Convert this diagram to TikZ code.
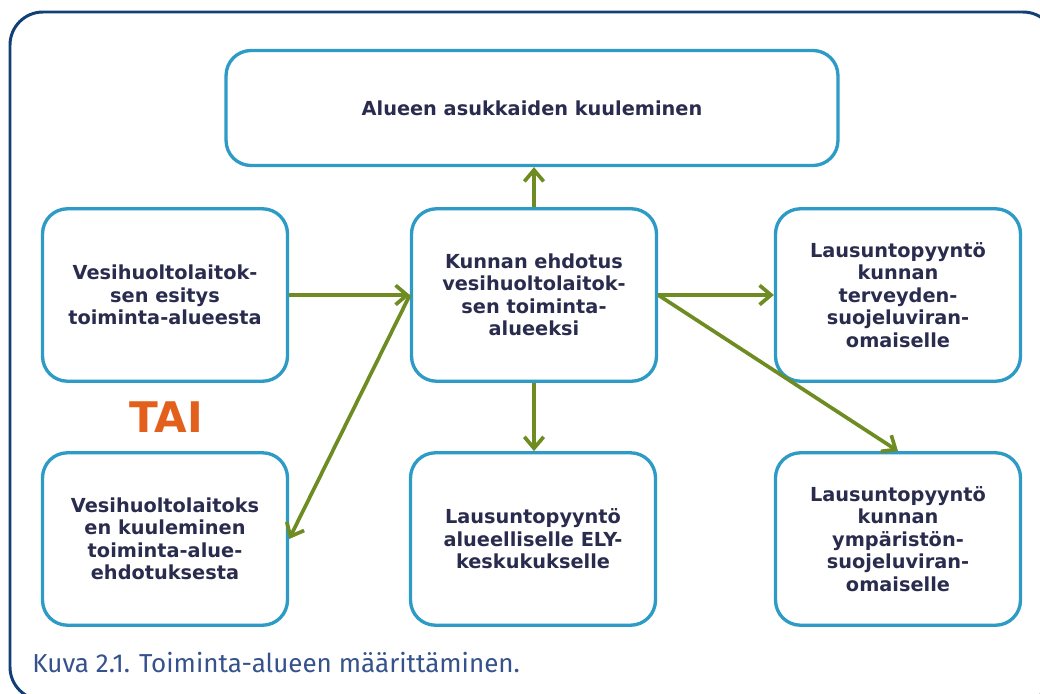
\documentclass[tikz,border=0pt]{standalone}
\usepackage{fontspec}
\setmainfont{DejaVu Sans}
\newfontfamily\capfont{Fira Sans}
\usetikzlibrary{arrows.meta}
\definecolor{boxblue}{HTML}{2E9BC6}
\definecolor{framenavy}{HTML}{123F74}
\definecolor{arrowgreen}{HTML}{6E8C22}
\definecolor{textnavy}{HTML}{2A2C4E}
\definecolor{taiorange}{HTML}{E2601C}
\definecolor{capblue}{HTML}{35528C}
\begin{document}
\begin{tikzpicture}[x=0.02cm,y=-0.02cm,
    box/.style={draw=boxblue,line width=1.9pt,rounded corners=0.5cm,fill=white,
      minimum width=4.9cm,minimum height=3.45cm,align=center,text=textnavy,
      font=\fontsize{11}{12.8}\selectfont\bfseries,inner sep=2pt},
    link/.style={draw=arrowgreen,line width=2.1pt,
      -{Straight Barb[length=6.5pt,width=11pt]}}]
      \useasboundingbox (0,0) rectangle (1040,693);
      \begin{scope}
        \clip (0,0) rectangle (1040,693);
        \draw[framenavy,line width=1.7pt,rounded corners=0.66cm]
          (10,12) rectangle (1056,700);
      \end{scope}
      \draw
        (532,108) node[box,minimum width=12.24cm,minimum height=2.3cm] (asukkaat)
          {Alueen asukkaiden kuuleminen}
        (165,295) node[box] (esitys)
          {Vesihuoltolaitok-\\sen esitys\\toiminta-alueesta}
        (534,295) node[box] (ehdotus)
          {Kunnan ehdotus\\vesihuoltolaitok-\\sen toiminta-\\alueeksi}
        (898,295) node[box] (terveys)
          {Lausuntopyyntö\\kunnan\\terveyden-\\suojeluviran-\\omaiselle}
        (165,539) node[box] (kuuleminen)
          {Vesihuoltolaitoks\\en kuuleminen\\toiminta-alue-\\ehdotuksesta}
        (533,539) node[box] (ely)
          {Lausuntopyyntö\\alueelliselle ELY-\\keskukukselle}
        (898,539) node[box] (ymparisto)
          {Lausuntopyyntö\\kunnan\\ympäristön-\\suojeluviran-\\omaiselle}
        (166,432) node[anchor=base,text=taiorange,font=\fontsize{24}{28}\selectfont\bfseries] (tai) {TAI}
        (32,672) node[anchor=base west,inner sep=0pt,text=capblue,font=\capfont\fontsize{14.8}{17}\selectfont] (kuva)
          {Kuva 2.1. Toiminta-alueen määrittäminen.};
      \begin{scope}[link]
        \draw (ehdotus.north) to (ehdotus.north |- asukkaat.south);
        \draw (esitys.east) to (ehdotus.west);
        \draw (ehdotus.west) to (kuuleminen.east);
        \draw (ehdotus.east) to (terveys.west);
        \draw (ehdotus.east) to (ymparisto.north);
        \draw (ehdotus.south) to (ehdotus.south |- ely.north);
      \end{scope}
    \end{tikzpicture}
\end{document}
